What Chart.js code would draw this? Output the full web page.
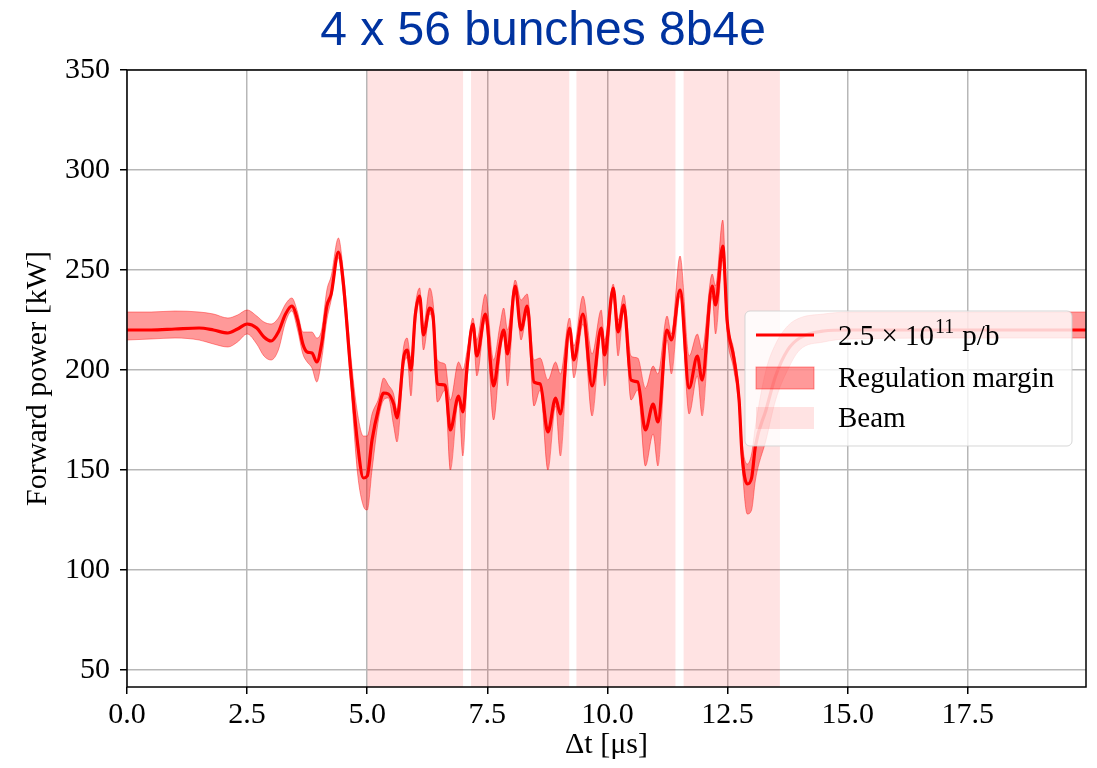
<!DOCTYPE html>
<html>
<head>
<meta charset="utf-8">
<title>Forward power - 4 x 56 bunches 8b4e</title>
<script src="https://cdn.jsdelivr.net/npm/chart.js@4.4.1/dist/chart.umd.min.js"></script>
<style>
    html, body { margin: 0; padding: 0; background: #fff; }
    #chart-wrap { width: 1097px; height: 768px; }
</style>
</head>
<body>
<div id="chart-wrap"><canvas id="power-chart" width="1097" height="768"></canvas></div>
<script>
// Time axis [us] and forward power [kW]
const timeUs = [
    0, 0.5, 1.0, 1.5, 1.8, 2.1, 2.3, 2.5, 2.7, 2.85,
    3.0, 3.15, 3.3, 3.43, 3.55, 3.66, 3.75, 3.85, 3.95, 4.05,
    4.16, 4.25, 4.4, 4.5, 4.65, 4.8, 4.92, 5.0, 5.1, 5.24,
    5.34, 5.44, 5.55, 5.62, 5.76, 5.83, 5.91, 6.0, 6.09, 6.17,
    6.3, 6.37, 6.46, 6.62, 6.73, 6.9, 6.99, 7.08, 7.2, 7.28,
    7.46, 7.63, 7.76, 7.84, 7.92, 8.08, 8.2, 8.33, 8.47, 8.6,
    8.76, 8.92, 9.02, 9.21, 9.3, 9.49, 9.68, 9.87, 9.94, 10.12,
    10.22, 10.34, 10.49, 10.63, 10.79, 10.95, 11.05, 11.24, 11.33, 11.51,
    11.7, 11.87, 11.97, 12.18, 12.25, 12.4, 12.49, 12.63, 12.74, 12.8,
    12.91, 13.0, 13.08, 13.3, 13.5, 13.75, 14.0, 14.5, 15.0, 17.5, 19.96
];
const power = [
    220, 220, 220.5, 221, 220, 218.5, 220.5, 223, 221, 216.5,
    214.5, 219, 228, 232, 225, 213, 209, 208.5, 204, 213,
    232, 238, 259, 244, 201, 163, 146, 147, 165, 181,
    188.5, 188, 183, 176, 206.5, 210, 200, 227.5, 237, 217.5,
    231, 227, 193, 192.5, 170, 187, 179, 202, 223, 207,
    228, 192, 212, 220, 208, 242, 220, 232, 194, 193,
    169, 186, 178, 221, 205, 228, 192, 221, 207.5, 241,
    219, 232.5, 195, 194, 170, 183, 174, 220, 215, 240,
    191, 207, 195, 242, 232.5, 262, 225, 206, 185, 158,
    143, 146, 162, 180, 197, 210, 216, 219.5, 220, 220, 220
];
const marginUpper = [
    229, 229, 229.5, 229, 228, 226, 227.5, 230, 227, 224,
    223, 226, 233, 236, 229, 219, 219, 219, 216, 220,
    240, 247, 266, 250, 209, 178, 167, 167, 178, 186,
    196, 192.5, 188, 180, 212, 216, 206, 232, 241, 222,
    241, 234, 205, 203, 185, 204, 200, 210, 226, 215,
    238, 205, 222, 231, 220, 245, 235, 238, 205, 206,
    195, 204, 198, 226, 212, 237, 208, 230, 215, 243,
    225, 237.5, 207, 206, 191, 202, 198, 227, 218, 257,
    207, 218, 210, 248, 242, 275, 228, 210, 190, 165,
    153, 158, 172, 200, 213, 222, 226, 228, 229, 229, 229
];
const marginLower = [
    215, 215.5, 216, 215, 213, 211.5, 214, 218, 213, 207,
    205, 210, 224, 229.5, 220, 208, 204, 201, 194, 205,
    225, 235, 256, 238, 195, 148, 132, 130, 150, 176,
    185, 186, 172, 164, 202, 206, 187, 222, 234, 210,
    228, 222, 184, 190, 150, 185, 157, 195, 220, 197,
    225, 175, 206, 218, 192, 240, 215, 228, 182, 190,
    150, 182, 157, 218, 196, 223, 177, 218, 192, 237,
    207, 230, 185, 190, 152, 168, 152, 215, 198, 237,
    178, 197, 177, 237, 218, 255, 218, 200, 180, 153,
    128, 130, 145, 165, 185, 200, 210, 214, 215.5, 216, 216
];

// Beam passages (shaded spans)
const beamStart = [5.0, 7.16, 9.35, 11.58];
const beamEnd = [7.0, 9.21, 11.42, 13.59];

const xTicks = [0, 2.5, 5, 7.5, 10, 12.5, 15, 17.5];
const yTicks = [50, 100, 150, 200, 250, 300, 350];
const xRange = [0, 19.96];
const yRange = [41.5, 350];

const SERIF = "'Liberation Serif', 'DejaVu Serif', serif";
const RED = '#ff0000';
const MARGIN_FILL = 'rgba(255, 0, 0, 0.4)';
const BEAM_FILL = 'rgba(255, 0, 0, 0.11)';
const GRID = '#b7b7b7';

function toPoints(ys) {
    return timeUs.map((t, i) => ({ x: t, y: ys[i] }));
}

const beamSets = beamStart.map((s, i) => ({
    label: i === 0 ? 'Beam' : '',
    data: [{ x: s, y: yRange[1] }, { x: beamEnd[i], y: yRange[1] }],
    borderWidth: 0,
    pointRadius: 0,
    backgroundColor: BEAM_FILL,
    fill: 'start',
    order: 3
}));

// Spines round the plot area, drawn over the data like matplotlib does
const frame = {
    id: 'frame',
    afterDatasetsDraw(chart) {
        const { ctx, chartArea: a } = chart;
        ctx.save();
        ctx.strokeStyle = '#000';
        ctx.lineWidth = 1.5;
        ctx.strokeRect(a.left, a.top, a.right - a.left, a.bottom - a.top);
        ctx.restore();
    }
};

// Legend sits inside the axes, semi transparent
const insetLegend = {
    id: 'insetLegend',
    afterDraw(chart) {
        const { ctx, chartArea: a } = chart;
        const w = 327, h = 135;
        const x = a.right - 14 - w;
        const y = a.top + 241;
        ctx.save();
        ctx.beginPath();
        ctx.roundRect(x, y, w, h, 5);
        ctx.fillStyle = 'rgba(255, 255, 255, 0.8)';
        ctx.fill();
        ctx.strokeStyle = 'rgba(204, 204, 204, 0.8)';
        ctx.lineWidth = 1;
        ctx.stroke();

        const hx = x + 11, hw = 58, tx = x + 93;
        ctx.fillStyle = '#000';
        ctx.textBaseline = 'alphabetic';
        ctx.textAlign = 'left';

        // line entry
        ctx.beginPath();
        ctx.moveTo(hx, y + 24);
        ctx.lineTo(hx + hw, y + 24);
        ctx.strokeStyle = RED;
        ctx.lineWidth = 3;
        ctx.stroke();
        ctx.font = `29px ${SERIF}`;
        let cx = tx;
        ctx.fillText('2.5 × 10', cx, y + 34);
        cx += ctx.measureText('2.5 × 10').width + 1;
        ctx.font = `20px ${SERIF}`;
        ctx.fillText('11', cx, y + 22);
        cx += ctx.measureText('11').width + 8;
        ctx.font = `29px ${SERIF}`;
        ctx.fillText('p/b', cx, y + 34);

        // margin entry
        ctx.fillStyle = MARGIN_FILL;
        ctx.fillRect(hx, y + 56, hw, 22);
        ctx.strokeStyle = MARGIN_FILL;
        ctx.lineWidth = 1;
        ctx.strokeRect(hx, y + 56, hw, 22);
        ctx.fillStyle = '#000';
        ctx.fillText('Regulation margin', tx, y + 76);

        // beam entry
        ctx.fillStyle = BEAM_FILL;
        ctx.fillRect(hx, y + 96, hw, 22);
        ctx.fillStyle = '#000';
        ctx.fillText('Beam', tx, y + 116);
        ctx.restore();
    }
};

const chart = new Chart(document.getElementById('power-chart'), {
    type: 'line',
    data: {
        datasets: [
            {
                label: '2.5 × 10^11 p/b',
                data: toPoints(power),
                borderColor: RED,
                borderWidth: 3.2,
                pointRadius: 0,
                cubicInterpolationMode: 'monotone',
                borderJoinStyle: 'round',
                fill: false,
                order: 0
            },
            {
                label: 'Regulation margin',
                data: toPoints(marginUpper),
                borderColor: MARGIN_FILL,
                borderWidth: 1,
                pointRadius: 0,
                cubicInterpolationMode: 'monotone',
                backgroundColor: MARGIN_FILL,
                fill: '+1',
                order: 1
            },
            {
                label: '',
                data: toPoints(marginLower),
                borderColor: MARGIN_FILL,
                borderWidth: 1,
                pointRadius: 0,
                cubicInterpolationMode: 'monotone',
                fill: false,
                order: 1
            },
            ...beamSets
        ]
    },
    options: {
        responsive: false,
        animation: false,
        devicePixelRatio: 1,
        layout: { padding: { right: 11 } },
        plugins: {
            legend: { display: false },
            tooltip: { enabled: false },
            title: {
                display: true,
                text: '4 x 56 bunches 8b4e',
                color: '#0033a0',
                font: { family: "'Liberation Sans', Arial, sans-serif", size: 48, weight: 'normal' },
                padding: { top: 3, bottom: 9.4 }
            }
        },
        scales: {
            x: {
                type: 'linear',
                min: xRange[0],
                max: xRange[1],
                afterBuildTicks: axis => { axis.ticks = xTicks.map(v => ({ value: v })); },
                afterFit: axis => { axis.height = 81; },
                ticks: {
                    color: '#000',
                    font: { family: SERIF, size: 30 },
                    padding: 3,
                    maxRotation: 0,
                    callback: v => v.toFixed(1)
                },
                grid: { color: GRID, lineWidth: 1.5, tickColor: '#000', tickLength: 7, tickWidth: 1.5 },
                border: { display: false },
                title: {
                    display: true,
                    text: 'Δt [μs]',
                    color: '#000',
                    font: { family: SERIF, size: 30 },
                    padding: { top: 0, bottom: 5 }
                }
            },
            y: {
                min: yRange[0],
                max: yRange[1],
                afterBuildTicks: axis => { axis.ticks = yTicks.map(v => ({ value: v })); },
                afterFit: axis => { axis.width = 127; },
                ticks: {
                    color: '#000',
                    font: { family: SERIF, size: 30 },
                    padding: 10,
                    callback: v => String(v)
                },
                grid: { color: GRID, lineWidth: 1.5, tickColor: '#000', tickLength: 7, tickWidth: 1.5 },
                border: { display: false },
                title: {
                    display: true,
                    text: 'Forward power [kW]',
                    color: '#000',
                    font: { family: SERIF, size: 30 },
                    padding: { top: 20, bottom: 0 }
                }
            }
        }
    },
    plugins: [frame, insetLegend]
});
</script>
</body>
</html>
